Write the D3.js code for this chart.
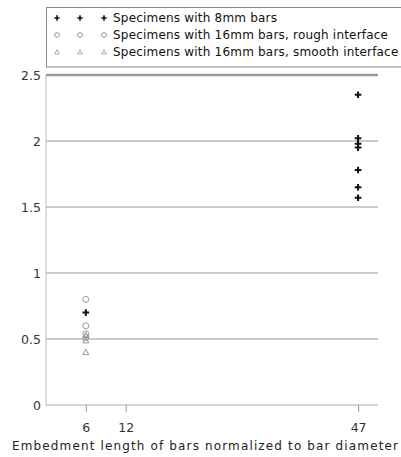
<!DOCTYPE html>
<html>
<head>
<meta charset="utf-8">
<script src="https://cdn.jsdelivr.net/npm/d3@7"></script>
<style>
  body { margin: 0; background: #fff; }
  text { font-family: "DejaVu Sans", Verdana, sans-serif; }
</style>
</head>
<body>
<div id="chart"></div>
<script>
  // data
  let xTicks = [6, 12, 47];
  let yTicks = [0, 0.5, 1, 1.5, 2, 2.5];
  let yTickLabels = ["0", "0.5", "1", "1.5", "2", "2.5"];

  let bars8X = [6, 47, 47, 47, 47, 47, 47, 47];
  let bars8Y = [0.70, 2.35, 2.02, 1.98, 1.95, 1.78, 1.65, 1.57];
  let roughX = [6, 6, 6, 6];
  let roughY = [0.80, 0.60, 0.54, 0.51];
  let smoothX = [6, 6, 6];
  let smoothY = [0.53, 0.49, 0.40];

  let legendLabels = [
    "Specimens with 8mm bars",
    "Specimens with 16mm bars, rough interface",
    "Specimens with 16mm bars, smooth interface"
  ];
  let legendShapes = ["plus", "circle", "triangle"];

  let width = 401, height = 457;
  let svg = d3.select("#chart").append("svg")
    .attr("width", width)
    .attr("height", height);

  let x = d3.scaleLinear().domain([0, 50]).range([46, 378]);
  let y = d3.scaleLinear().domain([0, 2.5]).range([405, 75]);

  // grid lines
  svg.append("g").selectAll("line")
    .data(yTicks)
    .join("line")
    .attr("x1", x(0)).attr("x2", x(50))
    .attr("y1", d => y(d)).attr("y2", d => y(d))
    .attr("stroke", d => d == 0 ? "#aaa" : "#999")
    .attr("stroke-width", d => d == 2.5 ? 2.5 : 1);

  // left axis line
  svg.append("line")
    .attr("x1", x(0)).attr("x2", x(0))
    .attr("y1", y(0)).attr("y2", y(2.5))
    .attr("stroke", "#bbb");

  // y labels
  svg.append("g").selectAll("text")
    .data(yTicks)
    .join("text")
    .attr("x", 41)
    .attr("y", d => y(d) + 4.5)
    .attr("text-anchor", "end")
    .attr("font-size", 12.5)
    .attr("fill", "#333")
    .text((d, i) => yTickLabels[i]);

  // x axis ticks
  let xAxis = d3.axisBottom(x).tickValues(xTicks).tickSize(7).tickPadding(11);
  let gx = svg.append("g").attr("transform", "translate(0," + y(0) + ")").call(xAxis);
  gx.select(".domain").remove();
  gx.selectAll(".tick line").attr("stroke", "#999");
  gx.selectAll(".tick text")
    .attr("font-size", 12.5)
    .attr("fill", "#333")
    .attr("font-family", "DejaVu Sans, Verdana, sans-serif");

  svg.append("text")
    .attr("x", 12)
    .attr("y", 450)
    .attr("font-size", 12)
    .attr("textLength", 386)
    .attr("lengthAdjust", "spacing")
    .attr("fill", "#222")
    .text("Embedment length of bars normalized to bar diameter");

  // markers
  function marker(g, shape, small) {
    let s = small ? 0.8 : 1;
    if (shape == "plus") {
      g.append("path").attr("d", "M-3.3,0H3.3M0,-3.3V3.3")
        .attr("transform", "scale(" + s + ")")
        .attr("stroke", "#111").attr("stroke-width", 2);
    } else if (shape == "circle") {
      g.append("circle").attr("r", 3 * s)
        .attr("fill", "none").attr("stroke", "#999").attr("stroke-width", 1);
    } else {
      g.append("path").attr("d", "M0,-3L3,2.5H-3Z")
        .attr("transform", "scale(" + s + ")")
        .attr("fill", "none").attr("stroke", "#999").attr("stroke-width", 1);
    }
  }

  function drawSeries(xs, ys, shape) {
    svg.append("g").selectAll("g")
      .data(xs.map((d, i) => [d, ys[i]]))
      .join("g")
      .attr("transform", d => "translate(" + x(d[0]) + "," + y(d[1]) + ")")
      .each(function () { marker(d3.select(this), shape, false); });
  }

  drawSeries(smoothX, smoothY, "triangle");
  drawSeries(roughX, roughY, "circle");
  drawSeries(bars8X, bars8Y, "plus");

  // legend
  let legend = svg.append("g");
  legend.append("rect")
    .attr("x", 46.5).attr("y", 7.5)
    .attr("width", 360).attr("height", 59.5)
    .attr("fill", "#fff").attr("stroke", "#888");

  legendLabels.forEach((label, i) => {
    let ly = 18 + i * 17;
    [57, 80, 104].forEach(lx => {
      let g = legend.append("g").attr("transform", "translate(" + lx + "," + ly + ")");
      marker(g, legendShapes[i], true);
    });
    legend.append("text")
      .attr("x", 113)
      .attr("y", ly + 4)
      .attr("font-size", 12)
      .attr("letter-spacing", 0.2)
      .attr("fill", "#111")
      .text(label);
  });
</script>
</body>
</html>
